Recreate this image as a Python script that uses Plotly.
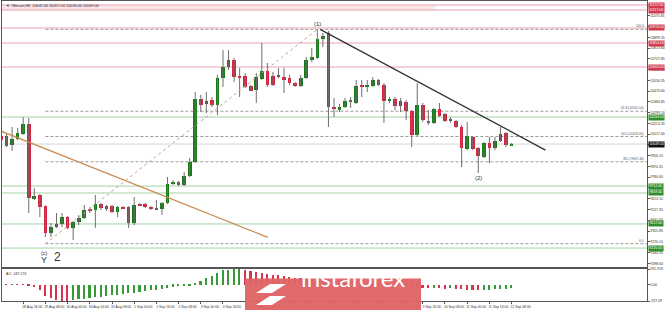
import plotly.graph_objects as go
import pandas as pd

START = pd.Timestamp("2019-08-28 00:00")
BAR_HOURS = 4

# ---- H4 candles (28 Aug 00:00 .. 12 Sep 08:00) ----
opens = [10113,10113,10041,10089,10129,10209,9611,9643,9555,9340,9388,9412,9467,9380,9428,9459,9531,9523,9571,9531,
         9555,9507,9547,9547,9420,9571,9571,9547,9539,9531,9579,9738,9746,9722,9794,9906,10408,10368,10400,10360,
         10575,10663,10719,10591,10591,10512,10480,10567,10631,10591,10599,10583,10575,10535,10512,10575,10719,10735,10886,10934,
         10344,10320,10344,10400,10376,10512,10504,10512,10559,10519,10392,10408,10352,10384,10312,10121,10360,10233,10217,10328,
         10288,10241,10233,10185,10009,10105,10017,9946,10057,10017,10073,10137,10041]
highs = [10137,10137,10185,10177,10264,10256,9699,9650,9560,9420,9499,9499,9475,9436,9483,9563,9547,9643,9579,9563,
         9563,9555,9555,9555,9627,9579,9579,9555,9603,9587,9786,9762,9754,9826,9938,10464,10440,10464,10424,10599,
         10798,10798,10735,10655,10615,10519,10615,10854,10695,10623,10655,10655,10599,10543,10599,10743,10814,10958,10934,10950,
         10416,10368,10416,10424,10559,10559,10559,10583,10567,10535,10424,10424,10416,10400,10320,10535,10376,10320,10336,10376,
         10296,10264,10241,10201,10225,10110,10025,10065,10105,10105,10185,10145,10057]
lows = [10041,10025,9994,10081,10121,9499,9603,9467,9308,9308,9380,9388,9370,9284,9404,9451,9499,9380,9523,9515,
        9499,9467,9531,9380,9404,9555,9539,9523,9523,9483,9571,9722,9714,9714,9786,9898,10304,10296,10344,10280,
        10504,10639,10543,10424,10496,10472,10376,10559,10504,10512,10575,10456,10519,10504,10504,10567,10703,10727,10822,10185,
        10264,10304,10336,10336,10368,10424,10464,10504,10512,10217,10376,10320,10304,10241,10025,10113,10225,10201,10209,10264,
        10225,10217,10177,9866,10001,10001,9818,9938,9898,10001,10065,10025,10033]
closes = [10081,10033,10089,10137,10209,9619,9635,9547,9340,9388,9412,9467,9380,9428,9459,9523,9515,9571,9539,9555,
          9507,9547,9539,9420,9563,9563,9547,9531,9531,9579,9730,9746,9722,9794,9906,10408,10360,10392,10360,10575,
          10663,10719,10583,10583,10504,10472,10583,10631,10519,10519,10583,10559,10535,10512,10575,10719,10743,10886,10910,10344,
          10328,10344,10392,10384,10512,10504,10512,10559,10519,10392,10408,10352,10392,10312,10121,10360,10241,10217,10328,10272,
          10233,10233,10185,10017,10113,10009,9954,10057,10017,10073,10129,10041,10049]

# ---- Awesome Oscillator ----
ao_values = [60,45,50,30,10,-60,-120,-290,-610,-780,-855,-910,-927.09,
             -860,-830,-800,-760,-720,-680,-640,-600,-560,-520,-480,-440,-400,-360,-320,-280,-230,-170,-110,-70,-40,-15,
             135,250,420,540,700,840,890,915,921.918,
             880,800,740,690,640,600,560,520,480,430,380,340,320,330,345,300,250,210,180,150,140,130,120,110,100,70,40,10,-20,-50,-90,-110,
             -150,-180,-170,-190,-210,-200,-220,-250,-270,-290,-310,-300,-280,-260,-235,-210,-187.276]

x_tick_bars = list(range(0, 93, 4))
x_tick_labels = ["28 Aug 2019","28 Aug 16:00","29 Aug 08:00","30 Aug 00:00","30 Aug 16:00","31 Aug 08:00",
                 "1 Sep 00:00","1 Sep 16:00","2 Sep 08:00","3 Sep 00:00","3 Sep 16:00","4 Sep 08:00",
                 "5 Sep 00:00","5 Sep 16:00","6 Sep 08:00","7 Sep 00:00","7 Sep 16:00","8 Sep 08:00",
                 "9 Sep 00:00","9 Sep 16:00","10 Sep 08:00","11 Sep 00:00","11 Sep 16:00","12 Sep 08:00"]

resistance_levels = [11157, 11117, 10974, 10854, 10663]
support_levels = [10264, 9714, 9659, 9412, 9220]
band_end_bar = 78.3

fib_low, fib_high = 9255, 10963
fib_low_bar, fib_high_bar = 8, 57
fib_ratios = [0.0, 38.2, 50.0, 61.8, 100.0]

brown_line_bars, brown_line_prices = [-0.18, 48.1], [10155, 9305]
black_line_bars, black_line_prices = [57.5, 98.1], [10963, 10001]

wave_labels = [("(1)", 57.1, 11005, 6), ("(2)", 86.0, 9778, 6), ("(c)", 7.8, 9181, 5.5),
               ("Y", 7.8, 9125, 9), ("2", 10.2, 9149, 12)]

ao_range = [-927.09, 921.918]
price_range = [9069, 11189]
bar_range = [0.18, 116.4]

# ---------------------------------------------------------------
def t(i):
    return START + pd.Timedelta(hours=BAR_HOURS * i)

n = len(opens)
times = [t(i) for i in range(n)]
bar_ms = BAR_HOURS * 3600 * 1000

GREEN = "#167a16"
RED = "#d8223e"

wx, wy = [], []
for i in range(n):
    wx += [times[i], times[i], None]
    wy += [lows[i], highs[i], None]

bases = [min(o, c) for o, c in zip(opens, closes)]
heights = [max(abs(c - o), 5) for o, c in zip(opens, closes)]
body_cols = [GREEN if c >= o else RED for o, c in zip(opens, closes)]

ao_cols = []
for i, v in enumerate(ao_values):
    ao_cols.append("#3a9a3a" if i == 0 or v >= ao_values[i - 1] else "#d4354f")

fig = go.Figure()
fig.add_trace(go.Scatter(x=wx, y=wy, mode="lines", line=dict(color="#6e6e6e", width=1),
                         hoverinfo="skip", showlegend=False, xaxis="x", yaxis="y"))
fig.add_trace(go.Bar(x=times, y=heights, base=bases, marker=dict(color=body_cols, line=dict(width=0)),
                     width=bar_ms * 0.66, showlegend=False, xaxis="x", yaxis="y"))
fig.add_trace(go.Scatter(x=[t(b) for b in brown_line_bars], y=brown_line_prices, mode="lines",
                         line=dict(color="#c98a4e", width=1.3), showlegend=False))
fig.add_trace(go.Scatter(x=[t(b) for b in black_line_bars], y=black_line_prices, mode="lines",
                         line=dict(color="#333333", width=1.3), showlegend=False))
fig.add_trace(go.Scatter(x=[t(fib_low_bar), t(fib_high_bar)], y=[fib_low, fib_high], mode="lines",
                         line=dict(color="#d29a9a", width=1, dash="dot"), showlegend=False))
fig.add_trace(go.Bar(x=times, y=ao_values, marker=dict(color=ao_cols, line=dict(width=0)),
                     width=bar_ms * 0.3, showlegend=False, xaxis="x2", yaxis="y2"))

shapes = []
annotations = []
FONT = "Liberation Sans"
AXFONT = 3.5

# pink band at top
shapes.append(dict(type="rect", xref="x", yref="y", x0=t(-2), x1=t(band_end_bar),
                   y0=resistance_levels[1], y1=resistance_levels[0],
                   fillcolor="rgba(240,170,180,0.28)", line=dict(width=0), layer="below"))
for lv in resistance_levels:
    shapes.append(dict(type="line", xref="paper", yref="y", x0=0, x1=1, y0=lv, y1=lv,
                       line=dict(color="#e8a2ae", width=1), layer="below"))
    annotations.append(dict(x=1, xref="paper", y=lv, yref="y", xanchor="left", xshift=0.5,
                            text=f"{lv:.2f}", showarrow=False, bgcolor="#d23a52",
                            font=dict(size=AXFONT, color="white", family=FONT), borderpad=0.4))
for lv in support_levels:
    shapes.append(dict(type="line", xref="paper", yref="y", x0=0, x1=1, y0=lv, y1=lv,
                       line=dict(color="#a3d2a3", width=1), layer="below"))
    annotations.append(dict(x=1, xref="paper", y=lv, yref="y", xanchor="left", xshift=0.5,
                            text=f"{lv:.2f}", showarrow=False, bgcolor="#2f8f2f",
                            font=dict(size=AXFONT, color="white", family=FONT), borderpad=0.4))

# fib levels
for r in fib_ratios:
    lv = fib_low + (fib_high - fib_low) * r / 100.0
    shapes.append(dict(type="line", xref="x", yref="y", x0=t(fib_low_bar), x1=t(bar_range[1]), y0=lv, y1=lv,
                       line=dict(color="#9a9a9a", width=1, dash="3px,2px"), layer="below"))
    if r in (0.0, 100.0):
        txt = f"{r:.1f}"
    else:
        txt = f"{r:.1f} ({lv:.2f})"
    annotations.append(dict(x=1, xref="paper", y=lv, yref="y", xanchor="right", yanchor="bottom",
                            xshift=-1, yshift=-1, text=txt, showarrow=False,
                            font=dict(size=3.2, color="#555555", family=FONT)))

# bid line
last_close = closes[-1]
shapes.append(dict(type="line", xref="paper", yref="y", x0=0, x1=1, y0=last_close, y1=last_close,
                   line=dict(color="#c4c4c4", width=0.7), layer="below"))
annotations.append(dict(x=1, xref="paper", y=last_close, yref="y", xanchor="left", xshift=0.5,
                        text=f"{last_close:.2f}", showarrow=False, bgcolor="#111111",
                        font=dict(size=AXFONT, color="white", family=FONT), borderpad=0.4))

for txt, b, p, s in wave_labels:
    annotations.append(dict(x=t(b), y=p, xref="x", yref="y", text=txt, showarrow=False,
                            font=dict(size=s, color="#333333", family=FONT)))

# headers
annotations.append(dict(x=0, y=1, xref="paper", yref="paper", xanchor="left", yanchor="top",
                        xshift=2, yshift=-1,
                        text=f"▼ #Bitcoin,H4  {opens[-1]:.2f} {highs[-1]:.2f} {lows[-1]:.2f} {closes[-1]:.2f}",
                        showarrow=False, font=dict(size=3.8, color="#333333", family=FONT)))
AO_TOP = 32 / 300
annotations.append(dict(x=0, y=AO_TOP, xref="paper", yref="paper", xanchor="left", yanchor="top",
                        xshift=2, yshift=-1, text=f"AO -187.276", showarrow=False,
                        font=dict(size=3.6, color="#333333", family=FONT)))

# watermark
def px(xp):
    return (xp - 2) / 645.0
def py(yp):
    return (301 - yp) / 300.0

shapes.append(dict(type="rect", xref="paper", yref="paper", x0=px(245), x1=px(421), y0=py(312), y1=py(278.5),
                   fillcolor="#e06466", opacity=0.96, line=dict(width=0), layer="above"))
logo = (f"M {px(256)} {py(293)} L {px(270)} {py(284)} L {px(286)} {py(284)} L {px(272)} {py(293)} Z "
        f"M {px(256)} {py(305)} L {px(270)} {py(296)} L {px(286)} {py(296)} L {px(272)} {py(305)} Z")
shapes.append(dict(type="path", xref="paper", yref="paper", path=logo, fillcolor="white",
                   line=dict(width=0), layer="above"))
annotations.append(dict(x=px(353), y=py(294), xref="paper", yref="paper", text="instaforex",
                        showarrow=False, font=dict(size=24, color="white", family="Lato")))

axis_line = dict(showline=True, mirror=True, linecolor="#555555", linewidth=1, showgrid=False, zeroline=False)

fig.update_layout(
    width=665, height=310,
    margin=dict(l=2, r=18, t=1, b=9),
    paper_bgcolor="white", plot_bgcolor="white",
    barmode="overlay", bargap=0,
    showlegend=False,
    font=dict(family=FONT, color="#333333"),
    xaxis=dict(domain=[0, 1], anchor="y", type="date", range=[t(bar_range[0]), t(bar_range[1])],
               showticklabels=False, ticks="", **axis_line),
    yaxis=dict(domain=[34 / 300, 1], anchor="x", side="right", range=price_range,
               tick0=9098.6, dtick=85.75, tickformat=".2f", ticks="outside", ticklen=1.5,
               ticklabelstandoff=0,
               tickcolor="#555555", tickfont=dict(size=AXFONT, color="#333333"), automargin=False, **axis_line),
    xaxis2=dict(domain=[0, 1], anchor="y2", type="date", matches="x",
                tickvals=[t(b) for b in x_tick_bars], ticktext=x_tick_labels,
                ticks="outside", ticklen=2, tickcolor="#555555",
                tickfont=dict(size=3.4, color="#333333"), ticklabelshift=9, automargin=False, **axis_line),
    yaxis2=dict(domain=[0, AO_TOP], anchor="x2", side="right", range=ao_range,
                tickvals=[ao_range[1], 0, ao_range[0]], ticktext=["921.918", "0.00", "-927.09"],
                ticks="outside", ticklen=1.5, ticklabelstandoff=0, tickcolor="#555555",
                tickfont=dict(size=AXFONT, color="#333333"), automargin=False, **axis_line),
    shapes=shapes,
    annotations=annotations,
)

fig.write_html("out.html")
